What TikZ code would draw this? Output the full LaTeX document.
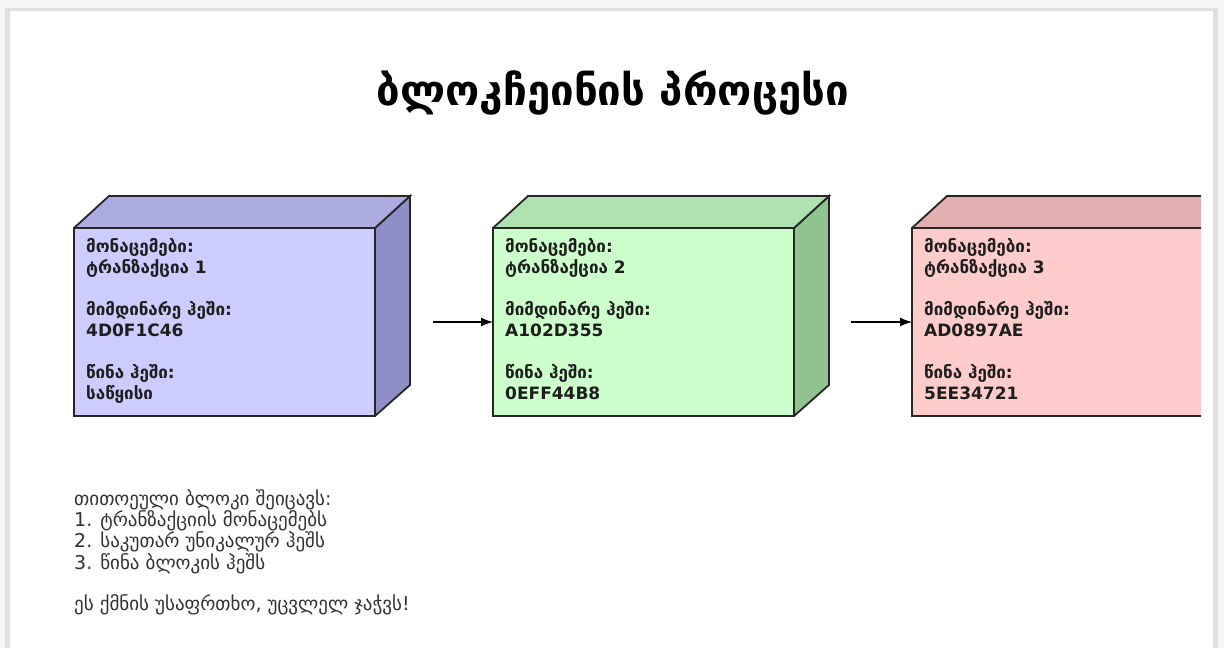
\documentclass[tikz,border=0pt]{standalone}
\usepackage{fontspec}
\setmainfont{DejaVu Sans}
\usetikzlibrary{arrows.meta}
\definecolor{bluefront}{RGB}{204,204,255}
\definecolor{bluetop}{RGB}{172,172,224}
\definecolor{blueside}{RGB}{143,143,200}
\definecolor{greenfront}{RGB}{204,255,204}
\definecolor{greentop}{RGB}{174,226,174}
\definecolor{greenside}{RGB}{143,196,143}
\definecolor{redfront}{RGB}{255,204,204}
\definecolor{redtop}{RGB}{226,174,174}
\definecolor{redside}{RGB}{200,143,143}
\definecolor{txt}{RGB}{30,30,30}
\definecolor{notetxt}{RGB}{50,50,50}
\tikzset{
  face/.style={draw=black!85, line width=1.8pt, line join=miter},
  boxtext/.style={anchor=north west, align=left, inner sep=0pt, text=txt,
    font=\fontsize{17}{21}\selectfont\bfseries},
  flow/.style={-{Latex[length=12pt,width=9pt]}, line width=1.3pt, black},
}
\newcommand{\blockat}[4]{% x, front, top, side
  \fill[#4] (#1+301,228) -- (#1+336,196) -- (#1+336,385) -- (#1+301,416) -- cycle;
  \draw[face] (#1+301,228) -- (#1+336,196) -- (#1+336,385) -- (#1+301,416);
  \fill[#3] (#1,228) -- (#1+35,196) -- (#1+336,196) -- (#1+301,228) -- cycle;
  \draw[face] (#1,228) -- (#1+35,196) -- (#1+336,196) -- (#1+301,228);
  \draw[face, fill=#2] (#1,228) rectangle (#1+301,416);
}
\begin{document}
\begin{tikzpicture}[x=1pt,y=-1pt]
\useasboundingbox (0,0) rectangle (1224,648);
\fill[white!96!black] (0,0) rectangle (1224,648);
\fill[black!22] (7,9) rectangle (1216,648);
\fill[black!12] (5,8) rectangle (1218,648);
\fill[white] (10,11) rectangle (1213,648);
\node[font=\fontsize{42}{48}\selectfont\bfseries, text=black] (title) at (613,93) {ბლოკჩეინის პროცესი};
\begin{scope}
\clip (0,0) rectangle (1201,648);
\blockat{74}{bluefront}{bluetop}{blueside}
\blockat{493}{greenfront}{greentop}{greenside}
\blockat{912}{redfront}{redtop}{redside}
\end{scope}
\node[boxtext] (t1) at (86,238) {მონაცემები:\\ტრანზაქცია 1\\[21pt]მიმდინარე ჰეში:\\4D0F1C46\\[21pt]წინა ჰეში:\\საწყისი};
\node[boxtext] (t2) at (505,238) {მონაცემები:\\ტრანზაქცია 2\\[21pt]მიმდინარე ჰეში:\\A102D355\\[21pt]წინა ჰეში:\\0EFF44B8};
\node[boxtext] (t3) at (924,238) {მონაცემები:\\ტრანზაქცია 3\\[21pt]მიმდინარე ჰეში:\\AD0897AE\\[21pt]წინა ჰეში:\\5EE34721};
\coordinate (a1s) at (433,322);
\coordinate (a1e) at (493,322);
\coordinate (a2s) at (851,322);
\coordinate (a2e) at (912,322);
\draw[flow] (a1s) -- (a1e);
\draw[flow] (a2s) -- (a2e);
\node[anchor=north west, align=left, inner sep=0pt, text=notetxt,
  font=\fontsize{19}{20}\selectfont] (note) at (74,489)
  {თითოეული ბლოკი შეიცავს:\\1. ტრანზაქციის მონაცემებს\\2. საკუთარ უნიკალურ ჰეშს\\3. წინა ბლოკის ჰეშს\\[20pt]ეს ქმნის უსაფრთხო, უცვლელ ჯაჭვს!};
\end{tikzpicture}
\end{document}
